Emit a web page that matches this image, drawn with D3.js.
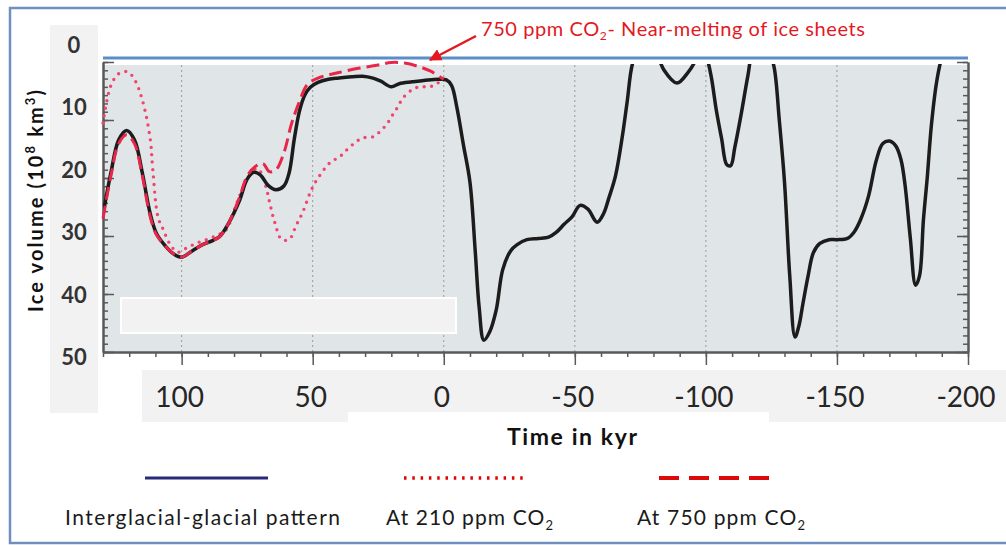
<!DOCTYPE html>
<html>
<head>
<meta charset="utf-8">
<script src="https://cdn.jsdelivr.net/npm/d3@7"></script>
<style>
  body { margin: 0; background: #fff; }
  svg text { font-family: Lato, "Open Sans", sans-serif; }
</style>
</head>
<body>
<div id="chart"></div>
<script>
// time in kyr (positive = past, negative = future)
var iceTime = [130, 127, 124, 121, 118, 115, 112, 109.5, 106, 103, 100, 96, 92, 88, 85.5, 82, 78, 75, 72.5, 70, 67, 64, 61, 59, 57, 55, 53, 51, 48, 44, 40, 35, 31, 27, 24, 20, 17, 12, 6, 2,
  -1, -3, -5, -7.5, -10, -12, -13.5, -15.3, -17.5, -20, -22.5, -25.5, -28, -31.7, -36, -40, -43, -46, -49, -52, -55, -58.5, -61, -63, -65.5, -68, -70, -72, -75, -78,
  -81, -84, -89, -93, -96, -98, -100, -102, -104, -106, -108, -109.5, -111, -113.5, -116, -118, -121, -124, -126, -128, -130, -132, -134, -135.5, -137, -139, -141, -143.5, -147, -150,
  -154, -156.5, -159, -162, -165, -167.5, -170, -172.5, -174.5, -176, -178, -180, -181.5, -183, -184.5, -186, -188, -190, -192];
var iceVolume = [27.2, 20.5, 15.2, 13.7, 15.2, 20.5, 27, 30.3, 32.3, 33.5, 34, 33, 32, 31.3, 30.7, 28.5, 25, 21.5, 20.4, 20.8, 22.5, 23.2, 22.6, 20.5, 15, 10.5, 8, 6.8, 6, 5.5, 5.3, 5.1, 5.0, 5.3, 5.8, 6.7, 6.2, 5.9, 5.6, 5.5,
  5.6, 6.5, 10, 16, 22, 33, 42, 47.3, 46, 42.5, 36, 33, 32, 31.2, 31, 30.8, 30, 28.7, 27.5, 25.7, 26.3, 28.4, 27, 24.5, 21, 15, 9, 3, 0, -1,
  1, 4, 6.1, 4.5, 2.5, 0, 1.5, 5, 10.5, 15, 19.2, 19.3, 16.5, 11, 5, 1, 0, 1, 3.5, 12, 22, 37, 46.8, 45, 41.5, 37, 33.3, 31.8, 31.2, 31.2,
  31, 30, 28, 24.3, 18.5, 15.8, 15.4, 16.2, 18.5, 22.5, 31, 38.5, 37, 28, 21, 13, 6, 2, 0];

var co2HighTime = [130, 127, 124, 121, 118, 115, 112, 109.5, 106, 103, 100, 96, 92, 88, 85.5, 82, 78, 75, 72, 69, 66.5, 64, 61, 58, 55, 52, 48, 44, 40, 32, 25, 20, 15, 10, 5, 0];
var co2HighVolume = [27.8, 21, 15.8, 14.4, 15.8, 21, 27.5, 30.5, 32.3, 33.5, 34, 33, 32, 31.3, 30.7, 28.5, 24.5, 21, 19.5, 19, 20.3, 20, 17.3, 12.5, 9, 6.3, 5.3, 4.8, 4.4, 3.7, 3.2, 2.8, 2.9, 3.4, 4.2, 5.5];

var co2LowTime = [130, 127, 124, 120.6, 118, 115, 112, 111, 109, 107, 104.6, 101.5, 98, 94, 90.5, 86, 83, 80, 75, 71, 68, 66.4, 64.5, 61.8, 58.8, 57, 55.7, 53.8, 51, 49, 43.5, 39.7, 37, 34, 31, 27, 23.7, 21.4, 19.5, 17.5, 15.6, 12.2, 9.2, 5.3, 2.3, 0];
var co2LowVolume = [12.5, 6.5, 4.6, 4.3, 5.5, 8.8, 15, 20, 27.6, 29.6, 31.8, 33.2, 32.5, 31.7, 31.2, 30.4, 29.6, 26.5, 21.5, 19.8, 22.5, 25.3, 28.4, 31.2, 31.1, 29.6, 28.4, 26.8, 23.7, 22, 18.9, 17.9, 16.8, 15.7, 14.9, 14.7, 13.6, 12.5, 11.2, 9.9, 8.5, 7.2, 6.7, 6.7, 6.1, 5.6];

var xTickLabels = [100, 50, 0, -50, -100, -150, -200];
var yTickLabels = [0, 10, 20, 30, 40, 50];
var legendNames = ["Interglacial-glacial pattern", "At 210 ppm CO", "At 750 ppm CO"];

var width = 1006, height = 545;
var plot = { left: 103, right: 968, top: 58, grey: 65, bottom: 352 };

var svg = d3.select("#chart").append("svg")
    .attr("width", width)
    .attr("height", height);

var x = d3.scaleLinear().domain([130, -200]).range([plot.left, plot.right]);
var y = d3.scaleLinear().domain([0, 50]).range([45, 357]);
// the underlying axis ticks of the source chart sit a bit off the pasted labels
var yTick = d3.scaleLinear().domain([0, 5]).range([plot.bottom, 62]);

// outer frame
svg.append("rect")
    .attr("x", 10).attr("y", 8)
    .attr("width", 1010).attr("height", 535)
    .attr("fill", "none")
    .attr("stroke", "#6f90bf")
    .attr("stroke-width", 2.5);

// label backing boxes
var boxes = [[50, 25, 48, 388], [142, 370, 206, 52], [348, 370, 421, 42], [769, 370, 240, 52]];
svg.selectAll(".box").data(boxes).enter().append("rect")
    .attr("class", "box")
    .attr("x", function(d) { return d[0]; })
    .attr("y", function(d) { return d[1]; })
    .attr("width", function(d) { return d[2]; })
    .attr("height", function(d) { return d[3]; })
    .attr("fill", "#f2f2f2");

// plot background
svg.append("rect")
    .attr("x", plot.left).attr("y", plot.grey)
    .attr("width", plot.right - plot.left)
    .attr("height", plot.bottom - plot.grey)
    .attr("fill", "#e0e5e8");

svg.append("line")
    .attr("x1", plot.left).attr("x2", plot.right)
    .attr("y1", plot.top).attr("y2", plot.top)
    .attr("stroke", "#5b8dc9")
    .attr("stroke-width", 3);

// grid
svg.selectAll(".grid").data(xTickLabels.slice(0, 6)).enter().append("line")
    .attr("class", "grid")
    .attr("x1", function(d) { return x(d); })
    .attr("x2", function(d) { return x(d); })
    .attr("y1", plot.grey).attr("y2", plot.bottom)
    .attr("stroke", "#9a9a9a")
    .attr("stroke-width", 1)
    .attr("stroke-dasharray", "2,3");

// blank box inside the plot
svg.append("rect")
    .attr("x", 121).attr("y", 298)
    .attr("width", 335).attr("height", 35)
    .attr("fill", "#f2f2f2")
    .attr("stroke", "#ffffff")
    .attr("stroke-width", 2);

// axes
function styleAxis(g) {
    g.selectAll("line").attr("stroke", "#595959").attr("stroke-width", 1.5);
    g.selectAll("path").attr("stroke", "#595959").attr("stroke-width", 2);
    g.selectAll("text").remove();
}

var minorY = d3.range(0, 5.001, 1 / 7);
svg.append("g").attr("transform", "translate(" + plot.left + ",0)")
    .call(d3.axisRight(yTick).tickValues(minorY).tickSize(5).tickSizeOuter(0))
    .call(styleAxis);
svg.append("g").attr("transform", "translate(" + plot.left + ",0)")
    .call(d3.axisRight(yTick).tickValues(d3.range(0, 6)).tickSize(11).tickSizeOuter(0))
    .call(styleAxis);
svg.append("g").attr("transform", "translate(" + plot.right + ",0)")
    .call(d3.axisLeft(yTick).tickValues(minorY).tickSize(5).tickSizeOuter(0))
    .call(styleAxis);
svg.append("g").attr("transform", "translate(" + plot.right + ",0)")
    .call(d3.axisLeft(yTick).tickValues(d3.range(0, 6)).tickSize(11).tickSizeOuter(0))
    .call(styleAxis);
svg.append("g").attr("transform", "translate(0," + plot.bottom + ")")
    .call(d3.axisBottom(x).tickValues(d3.range(-200, 131, 10)).tickSize(5).tickSizeOuter(0))
    .call(styleAxis);
svg.append("g").attr("transform", "translate(0," + plot.bottom + ")")
    .call(d3.axisBottom(x).tickValues(xTickLabels).tickSize(13).tickSizeOuter(0))
    .call(styleAxis);

// tick labels
svg.selectAll(".ylab").data(yTickLabels).enter().append("text")
    .attr("class", "ylab")
    .attr("x", 74)
    .attr("y", function(d) { return y(d) + 8; })
    .attr("text-anchor", "middle")
    .attr("font-size", 22)
    .attr("font-weight", "bold")
    .attr("fill", "#333")
    .text(function(d) { return d; });

svg.selectAll(".xlab").data(xTickLabels).enter().append("text")
    .attr("class", "xlab")
    .attr("x", function(d) { return x(d) - 2; })
    .attr("y", 407)
    .attr("text-anchor", "middle")
    .attr("font-size", 28)
    .attr("fill", "#262626")
    .text(function(d) { return d; });

// axis titles
var yTitle = svg.append("text")
    .attr("transform", "translate(43,201) rotate(-90)")
    .attr("text-anchor", "middle")
    .attr("font-size", 20)
    .attr("font-weight", "bold")
    .attr("fill", "#111")
    .attr("textLength", 222)
    .attr("lengthAdjust", "spacing");
yTitle.append("tspan").text("Ice volume (10");
yTitle.append("tspan").attr("dy", -8).attr("font-size", 13).text("8");
yTitle.append("tspan").attr("dy", 8).text(" km");
yTitle.append("tspan").attr("dy", -8).attr("font-size", 13).text("3");
yTitle.append("tspan").attr("dy", 8).text(")");

svg.append("text")
    .attr("x", 507).attr("y", 445)
    .attr("font-size", 23)
    .attr("font-weight", "bold")
    .attr("fill", "#111")
    .attr("textLength", 130)
    .attr("lengthAdjust", "spacing")
    .text("Time in kyr");

// curves
svg.append("clipPath").attr("id", "clip")
    .append("rect")
    .attr("x", plot.left).attr("y", plot.grey - 1)
    .attr("width", plot.right - plot.left)
    .attr("height", plot.bottom - plot.grey);

var line = d3.line()
    .x(function(d) { return x(d[0]); })
    .y(function(d) { return y(d[1]); })
    .curve(d3.curveCatmullRom.alpha(0.5));

svg.append("path")
    .datum(d3.zip(co2LowTime, co2LowVolume))
    .attr("d", line)
    .attr("fill", "none")
    .attr("stroke", "#f2456e")
    .attr("stroke-width", 3.4)
    .attr("stroke-linecap", "round")
    .attr("stroke-dasharray", "0,7.5");

svg.append("path")
    .datum(d3.zip(iceTime, iceVolume))
    .attr("d", line)
    .attr("clip-path", "url(#clip)")
    .attr("fill", "none")
    .attr("stroke", "#1c1c1c")
    .attr("stroke-width", 3.5);

svg.append("path")
    .datum(d3.zip(co2HighTime, co2HighVolume))
    .attr("d", line)
    .attr("fill", "none")
    .attr("stroke", "#e8264a")
    .attr("stroke-width", 3)
    .attr("stroke-dasharray", "13,6");

// annotation
svg.append("defs").append("marker")
    .attr("id", "arrow")
    .attr("viewBox", "0 0 10 10")
    .attr("refX", 9).attr("refY", 5)
    .attr("markerWidth", 5).attr("markerHeight", 5)
    .attr("orient", "auto")
    .append("path")
    .attr("d", "M0,0L10,5L0,10z")
    .attr("fill", "#e3191f");

svg.append("line")
    .attr("x1", 476).attr("y1", 36)
    .attr("x2", 430).attr("y2", 60)
    .attr("stroke", "#e3191f")
    .attr("stroke-width", 2.5)
    .attr("marker-end", "url(#arrow)");

var note = svg.append("text")
    .attr("x", 481).attr("y", 36)
    .attr("font-size", 20)
    .attr("fill", "#e3191f")
    .attr("textLength", 384)
    .attr("lengthAdjust", "spacing");
note.append("tspan").text("750 ppm CO");
note.append("tspan").attr("dy", 4).attr("font-size", 12).text("2");
note.append("tspan").attr("dy", -4).text("- Near-melting of ice sheets");

// legend
var legendX = [145, 404, 659];
var legendLine = [
    { stroke: "#2a2a7c", dash: null, w: 3 },
    { stroke: "#e60000", dash: "2.5,5.8", w: 3.5 },
    { stroke: "#dd0a0a", dash: "20,10", w: 4 }
];
var legendLen = [123, 124, 110];
legendNames.forEach(function(name, i) {
    svg.append("line")
        .attr("x1", legendX[i]).attr("x2", legendX[i] + legendLen[i])
        .attr("y1", 478).attr("y2", 478)
        .attr("stroke", legendLine[i].stroke)
        .attr("stroke-width", legendLine[i].w)
        .attr("stroke-dasharray", legendLine[i].dash);
});
var legendTextX = [65, 386, 637];
var legendTextLen = [275, 167, 168];
legendNames.forEach(function(name, i) {
    var t = svg.append("text")
        .attr("x", legendTextX[i]).attr("y", 525)
        .attr("font-size", 21)
        .attr("fill", "#1a1a1a")
        .attr("textLength", legendTextLen[i])
        .attr("lengthAdjust", "spacing");
    t.append("tspan").text(name);
    if (i > 0) {
        t.append("tspan").attr("dy", 5).attr("font-size", 13).text("2");
    }
});
</script>
</body>
</html>
